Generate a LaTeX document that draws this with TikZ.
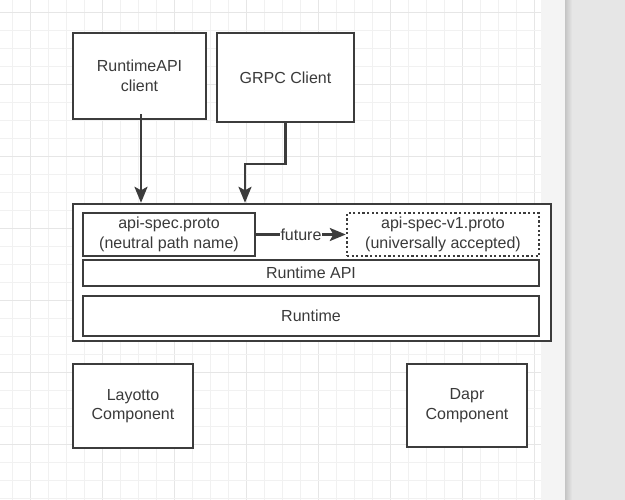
\documentclass[tikz,border=0pt]{standalone}
\usepackage{fontspec}
\setmainfont{Liberation Sans}
\usetikzlibrary{arrows.meta}
\definecolor{minorgrid}{HTML}{F1F1F1}
\definecolor{majorgrid}{HTML}{E6E6E6}
\definecolor{strip}{HTML}{F4F4F4}
\definecolor{panel}{HTML}{E6E6E6}
\definecolor{shadowc}{HTML}{C4C4C4}
\definecolor{ink}{HTML}{3C3C3C}
\definecolor{txt}{HTML}{3A3A3A}
\tikzset{
  box/.style={draw=ink, line width=2.4pt, fill=white, rectangle, inner sep=0pt,
    align=center, text=txt, font=\fontsize{16}{19.5}\selectfont},
  dotbox/.style={box, dash pattern=on 2.2pt off 2.4pt},
  arr/.style={draw=ink, line width=2.5pt, -{Stealth[length=16pt,width=13pt,inset=3.5pt]}},
  lbl/.style={fill=white, text=txt, inner sep=1pt, font=\fontsize{16}{18}\selectfont}
}
\begin{document}
\begin{tikzpicture}[x=1pt,y=-1pt]
\useasboundingbox (0,0) rectangle (625,500);
\fill[white] (0,0) rectangle (541,500);
% grid
\foreach \k in {0,...,29}{
  \pgfmathtruncatemacro{\m}{mod(\k,4)}
  \ifnum\m=1 \def\gc{majorgrid}\else\def\gc{minorgrid}\fi
  \draw[\gc, line width=1pt] (12.7+18*\k,0) -- (12.7+18*\k,500);
}
\foreach \k in {0,...,27}{
  \pgfmathtruncatemacro{\m}{mod(\k,4)}
  \ifnum\m=0 \def\gc{majorgrid}\else\def\gc{minorgrid}\fi
  \draw[\gc, line width=1pt] (0,12.5+18*\k) -- (541,12.5+18*\k);
}
\fill[strip] (541,0) rectangle (565,500);
\fill[panel] (565,0) rectangle (625,500);
\shade[left color=shadowc, right color=panel] (565,0) rectangle (572,500);

% nodes
\node[box, minimum width=133pt, minimum height=86pt] (rac) at (139.5,76) {RuntimeAPI\\client};
\node[box, minimum width=137pt, minimum height=89pt] (grpc) at (285.5,77.5) {GRPC Client};
\node[box, minimum width=478pt, minimum height=137pt] (main) at (312,272.5) {};
\node[box, minimum width=172pt, minimum height=43pt] (spec) at (169,234.5) {api-spec.proto\\(neutral path name)};
\node[dotbox, minimum width=192pt, minimum height=43pt] (v1) at (443,234.5) {api-spec-v1.proto\\(universally accepted)};
\node[box, minimum width=456pt, minimum height=26pt] (rapi) at (311,273) {Runtime API};
\node[box, minimum width=456pt, minimum height=40pt] (rt) at (311,316) {Runtime};
\node[box, minimum width=120pt, minimum height=84pt] (lay) at (133,406) {Layotto\\Component};
\node[box, minimum width=120pt, minimum height=83pt] (dapr) at (467,405.5) {Dapr\\Component};

% connectors
\draw[arr] ([xshift=1.5pt,yshift=6pt]rac.south) -- ([xshift=1.5pt]rac.south |- main.north);
\draw[arr] (grpc.south) -- ++(0,41) -| ([xshift=-67pt]main.north);
\draw[arr] (spec.east) -- node[lbl]{future} (v1.west);
\end{tikzpicture}
\end{document}
